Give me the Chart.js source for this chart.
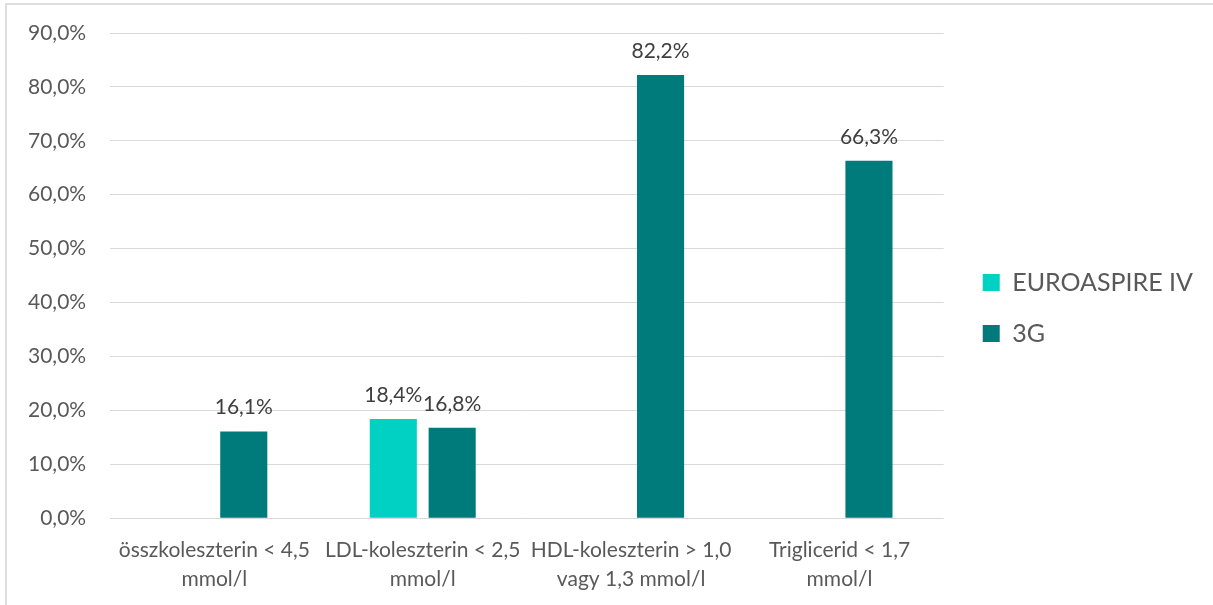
<!DOCTYPE html>
<html>
<head>
<meta charset="utf-8">
<script src="https://cdn.jsdelivr.net/npm/chart.js@4/dist/chart.umd.min.js"></script>
<style>
  html, body { margin: 0; padding: 0; background: #fff; }
  #wrap { position: relative; width: 1213px; height: 605px; overflow: hidden; }
  #frame { position: absolute; left: 5px; top: 3px; width: 1300px; height: 700px;
           border-top: 2px solid #dedede; border-left: 2px solid #dedede; box-sizing: border-box; }
  canvas { position: absolute; left: 0; top: 0; }
</style>
</head>
<body>
<div id="wrap">
  <div id="frame"></div>
  <canvas id="c" width="1213" height="605"></canvas>
</div>
<script>
const categories = [
  ["összkoleszterin < 4,5", "mmol/l"],
  ["LDL-koleszterin < 2,5", "mmol/l"],
  ["HDL-koleszterin > 1,0", "vagy 1,3 mmol/l"],
  ["Triglicerid < 1,7", "mmol/l"]
];
const seriesNames = ["EUROASPIRE IV", "3G"];
const euroaspire = [null, 18.4, null, null];
const g3 = [16.1, 16.8, 82.2, 66.3];
const yTicks = { min: 0, max: 90, step: 10 };

const FONT = "Lato, 'Open Sans', sans-serif";
const fmt = v => v.toFixed(1).replace('.', ',') + '%';

const dataLabels = {
  id: 'dataLabels',
  afterDatasetsDraw(chart) {
    const ctx = chart.ctx;
    ctx.save();
    ctx.font = "21px " + FONT;
    ctx.fillStyle = '#404040';
    ctx.textAlign = 'center';
    ctx.textBaseline = 'alphabetic';
    chart.data.datasets.forEach((ds, di) => {
      const meta = chart.getDatasetMeta(di);
      meta.data.forEach((bar, i) => {
        const v = ds.data[i];
        if (v === null || v === undefined) return;
        ctx.fillText(fmt(v), bar.x, bar.y - 17);
      });
    });
    ctx.restore();
  }
};

const legendShift = {
  id: 'legendShift',
  afterLayout(chart) {
    const l = chart.legend;
    if (!l) return;
    l.left += 13; l.right += 13;
    l.top -= 14; l.bottom -= 14;
  }
};

new Chart(document.getElementById('c'), {
  type: 'bar',
  data: {
    labels: categories,
    datasets: [
      { label: seriesNames[0], data: euroaspire, backgroundColor: '#00D1C3' },
      { label: seriesNames[1], data: g3, backgroundColor: '#007B7B' }
    ]
  },
  options: {
    responsive: false,
    animation: false,
    categoryPercentage: 0.565,
    barPercentage: 0.8,
    layout: { padding: { left: 4, top: 33, right: 23, bottom: -6 } },
    plugins: {
      legend: {
        position: 'right',
        labels: {
          boxWidth: 17, boxHeight: 17, padding: 26,
          color: '#595959',
          font: { family: FONT, size: 25 }
        }
      },
      tooltip: { enabled: false }
    },
    scales: {
      x: {
        grid: { display: false, drawTicks: false },
        border: { display: false },
        ticks: { color: '#595959', font: { family: FONT, size: 21, lineHeight: 1.4 }, padding: 17, maxRotation: 0, autoSkip: false }
      },
      y: {
        min: yTicks.min, max: yTicks.max,
        grid: { color: '#d9d9d9', drawTicks: false },
        border: { display: false },
        afterFit: s => { s.paddingTop = 12; s.paddingBottom = 12; },
        ticks: { stepSize: yTicks.step, color: '#595959', font: { family: FONT, size: 21 }, padding: 24,
                 callback: v => fmt(v) }
      }
    }
  },
  plugins: [dataLabels, legendShift]
});
</script>
</body>
</html>
